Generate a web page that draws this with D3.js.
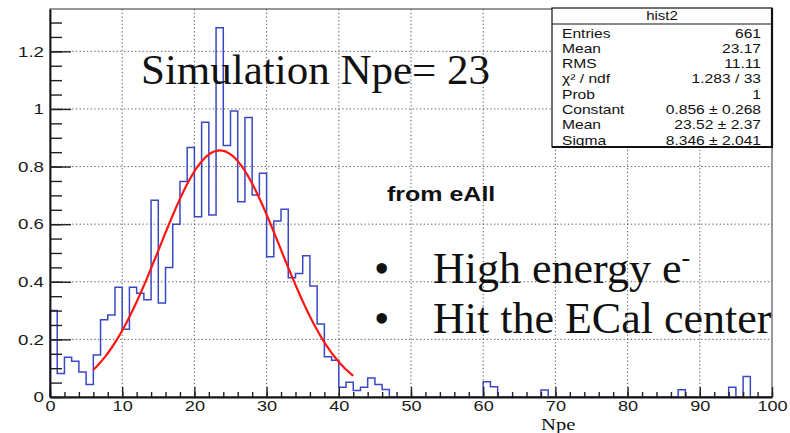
<!DOCTYPE html>
<html><head><meta charset="utf-8">
<script src="https://cdn.jsdelivr.net/npm/d3@7"></script>
<style>html,body{margin:0;padding:0;background:#fff;} svg{display:block;}</style>
</head><body>
<svg id="chart" width="790" height="433"></svg>
<script>
// Npe histogram contents, one-unit bins from 0 to 100 (bin i covers [i, i+1))
const npeBins = [
  0.300, 0.082, 0.138, 0.124, 0.087, 0.043, 0.146, 0.268, 0.285, 0.381,
  0.235, 0.381, 0.360, 0.338, 0.683, 0.326, 0.450, 0.600, 0.748, 0.866,
  0.626, 0.954, 0.632, 1.282, 0.873, 0.993, 0.678, 0.970, 0.701, 0.777,
  0.487, 0.611, 0.652, 0.414, 0.429, 0.490, 0.385, 0.253, 0.140, 0.128,
  0.034, 0.051, 0.023, 0.034, 0.066, 0.043, 0.026, 0, 0, 0,
  0, 0, 0, 0, 0, 0, 0, 0, 0, 0,
  0.053, 0.036, 0, 0, 0, 0, 0, 0, 0.024, 0,
  0, 0, 0, 0, 0, 0, 0, 0, 0, 0,
  0, 0, 0, 0, 0, 0, 0, 0.025, 0, 0,
  0, 0, 0, 0, 0.034, 0, 0.071, 0, 0, 0
];

const xTicks = [0, 10, 20, 30, 40, 50, 60, 70, 80, 90, 100];
const yTicks = [0, 0.2, 0.4, 0.6, 0.8, 1, 1.2];

// Gaussian fit result
const fitConstant = 0.856, fitMean = 23.52, fitSigma = 8.346;
const fitErrors = [0.268, 2.37, 2.041];
const fitRange = [6, 42];

// Statistics box
const statTitle = "hist2";
const statNames = ["Entries", "Mean", "RMS", "\u03C7\u00B2 / ndf", "Prob", "Constant", "Mean", "Sigma"];
const statValues = ["661", "23.17", "11.11", "1.283 / 33", "1",
  `${fitConstant} \u00B1 ${fitErrors[0]}`, `${fitMean} \u00B1 ${fitErrors[1]}`, `${fitSigma} \u00B1 ${fitErrors[2]}`];

const svg = d3.select("#chart");
const W = 790, H = 433;
const plot = {left: 50, right: 772, top: 9, bottom: 397};
const SX = 1.25;  // horizontal stretch of the canvas text
const sansFont = "'Liberation Sans', Arial, Helvetica, sans-serif";
const serifFont = "'Liberation Serif', 'Times New Roman', Times, serif";

svg.append("rect").attr("width", W).attr("height", H).attr("fill", "#fff");

const x = d3.scaleLinear().domain([0, 100]).range([plot.left, plot.right]);
const y = d3.scaleLinear().domain([0, 1.347]).range([plot.bottom, plot.top]);

// dotted grid on the major ticks
const grid = svg.append("g").attr("stroke", "#5a5a5a").attr("stroke-width", 1)
  .attr("stroke-dasharray", "1.3,2.4");
grid.selectAll(".gx").data(xTicks.filter(t => t > 0 && t < 100)).join("line")
  .attr("x1", d => x(d)).attr("x2", d => x(d)).attr("y1", plot.top).attr("y2", plot.bottom);
grid.selectAll(".gy").data(yTicks.filter(t => t > 0)).join("line")
  .attr("y1", d => y(d)).attr("y2", d => y(d)).attr("x1", plot.left).attr("x2", plot.right);

// histogram outline as a step line
const steps = [[0, 0]];
npeBins.forEach((v, i) => { steps.push([i, v]); steps.push([i + 1, v]); });
steps.push([100, 0]);
svg.append("path")
  .attr("d", d3.line().x(d => x(d[0])).y(d => y(d[1]))(steps))
  .attr("fill", "none").attr("stroke", "#3b48c6").attr("stroke-width", 1.5);

// fitted gaussian over the fit range
const fitX = d3.range(fitRange[0], fitRange[1] + 0.001, 0.25);
const gaus = v => fitConstant * Math.exp(-0.5 * Math.pow((v - fitMean) / fitSigma, 2));
svg.append("path")
  .attr("d", d3.line().x(v => x(v)).y(v => y(gaus(v))).curve(d3.curveBasis)(fitX))
  .attr("fill", "none").attr("stroke", "#ff1414").attr("stroke-width", 2.2);

// frame
svg.append("rect").attr("x", plot.left).attr("y", plot.top)
  .attr("width", plot.right - plot.left).attr("height", plot.bottom - plot.top)
  .attr("fill", "none").attr("stroke", "#555").attr("stroke-width", 1.2);

// axes
function styleAxis(g, size) {
  g.selectAll("line").attr("stroke", "#222").attr("stroke-width", 1.4);
  g.selectAll("path").attr("stroke", "#111").attr("stroke-width", 1.8);
  g.selectAll("text").attr("font-family", sansFont).attr("font-size", size).attr("fill", "#1a1a1a");
}
const xMinor = d3.range(0, 101, 2);
const yMinor = d3.range(0, 27).map(i => +(i * 0.05).toFixed(2));

const gxMinor = svg.append("g").attr("transform", `translate(0,${plot.bottom})`)
  .call(d3.axisBottom(x).tickValues(xMinor).tickSize(-5).tickSizeOuter(0).tickFormat(""));
gxMinor.select(".domain").remove();
styleAxis(gxMinor, 14.5);
const gx = svg.append("g").attr("transform", `translate(0,${plot.bottom})`)
  .call(d3.axisBottom(x).tickValues(xTicks).tickSize(-10).tickSizeOuter(0).tickPadding(4).tickFormat(d => String(d)));
styleAxis(gx, 14.5);
gx.selectAll("text").attr("transform", `scale(${SX},1)`).attr("dy", "0.72em");

const gyMinor = svg.append("g").attr("transform", `translate(${plot.left},0)`)
  .call(d3.axisLeft(y).tickValues(yMinor).tickSize(-12).tickSizeOuter(0).tickFormat(""));
gyMinor.select(".domain").remove();
styleAxis(gyMinor, 15);
const gy = svg.append("g").attr("transform", `translate(${plot.left},0)`)
  .call(d3.axisLeft(y).tickValues(yTicks).tickSize(-21).tickSizeOuter(0).tickFormat(d => String(d)));
styleAxis(gy, 15);
gy.selectAll("text").attr("x", -6 / SX).attr("transform", `scale(${SX},1)`);

// axis title
svg.append("text").attr("transform", `translate(541,430) scale(${SX},1)`)
  .attr("font-family", serifFont).attr("font-size", 16.5).attr("fill", "#111").text("Npe");

// statistics box
const box = {x0: 552, y0: 8, x1: 772, y1: 147, head: 24};
const sb = svg.append("g");
sb.append("rect").attr("x", box.x0).attr("y", box.y0).attr("width", box.x1 - box.x0).attr("height", box.y1 - box.y0)
  .attr("fill", "#fff").attr("stroke", "#111").attr("stroke-width", 1.2);
sb.append("line").attr("x1", box.x1).attr("x2", box.x1).attr("y1", box.y0).attr("y2", box.y1 + 1)
  .attr("stroke", "#111").attr("stroke-width", 2.2);
sb.append("line").attr("x1", box.x0).attr("x2", box.x1 + 1).attr("y1", box.y1).attr("y2", box.y1)
  .attr("stroke", "#111").attr("stroke-width", 2.2);
sb.append("line").attr("x1", box.x0).attr("x2", box.x1).attr("y1", box.head).attr("y2", box.head)
  .attr("stroke", "#111").attr("stroke-width", 1.2);
sb.append("text").attr("transform", `translate(${(box.x0 + box.x1) / 2},${box.y0 + 12}) scale(${SX},1)`)
  .attr("text-anchor", "middle").attr("font-family", sansFont).attr("font-size", 12).attr("fill", "#111").text(statTitle);
statNames.forEach((n, i) => {
  const yy = 37.5 + i * 15.3;
  sb.append("text").attr("transform", `translate(562,${yy}) scale(${SX},1)`)
    .attr("font-family", sansFont).attr("font-size", 12.5).attr("fill", "#111").text(n);
  sb.append("text").attr("transform", `translate(761,${yy}) scale(${SX},1)`).attr("text-anchor", "end")
    .attr("font-family", sansFont).attr("font-size", 12.5).attr("fill", "#111").text(statValues[i]);
});

// annotations
svg.append("text").attr("x", 141).attr("y", 84).attr("font-family", serifFont).attr("font-size", 43)
  .attr("fill", "#111").text("Simulation Npe= 23");
svg.append("text").attr("transform", `translate(387,201) scale(${SX},1)`).attr("font-family", sansFont)
  .attr("font-weight", "bold").attr("font-size", 20).attr("fill", "#111").text("from eAll");

const bullets = svg.append("g").attr("font-family", serifFont).attr("font-size", 44).attr("fill", "#111");
bullets.append("text").attr("x", 374).attr("y", 283).text("\u2022");
bullets.append("text").attr("x", 374).attr("y", 333).text("\u2022");
const l1 = bullets.append("text").attr("x", 433).attr("y", 283);
l1.append("tspan").text("High energy e");
l1.append("tspan").attr("font-size", 26).attr("dy", -17).text("-");
bullets.append("text").attr("x", 433).attr("y", 333).text("Hit the ECal center");
</script>
</body></html>
